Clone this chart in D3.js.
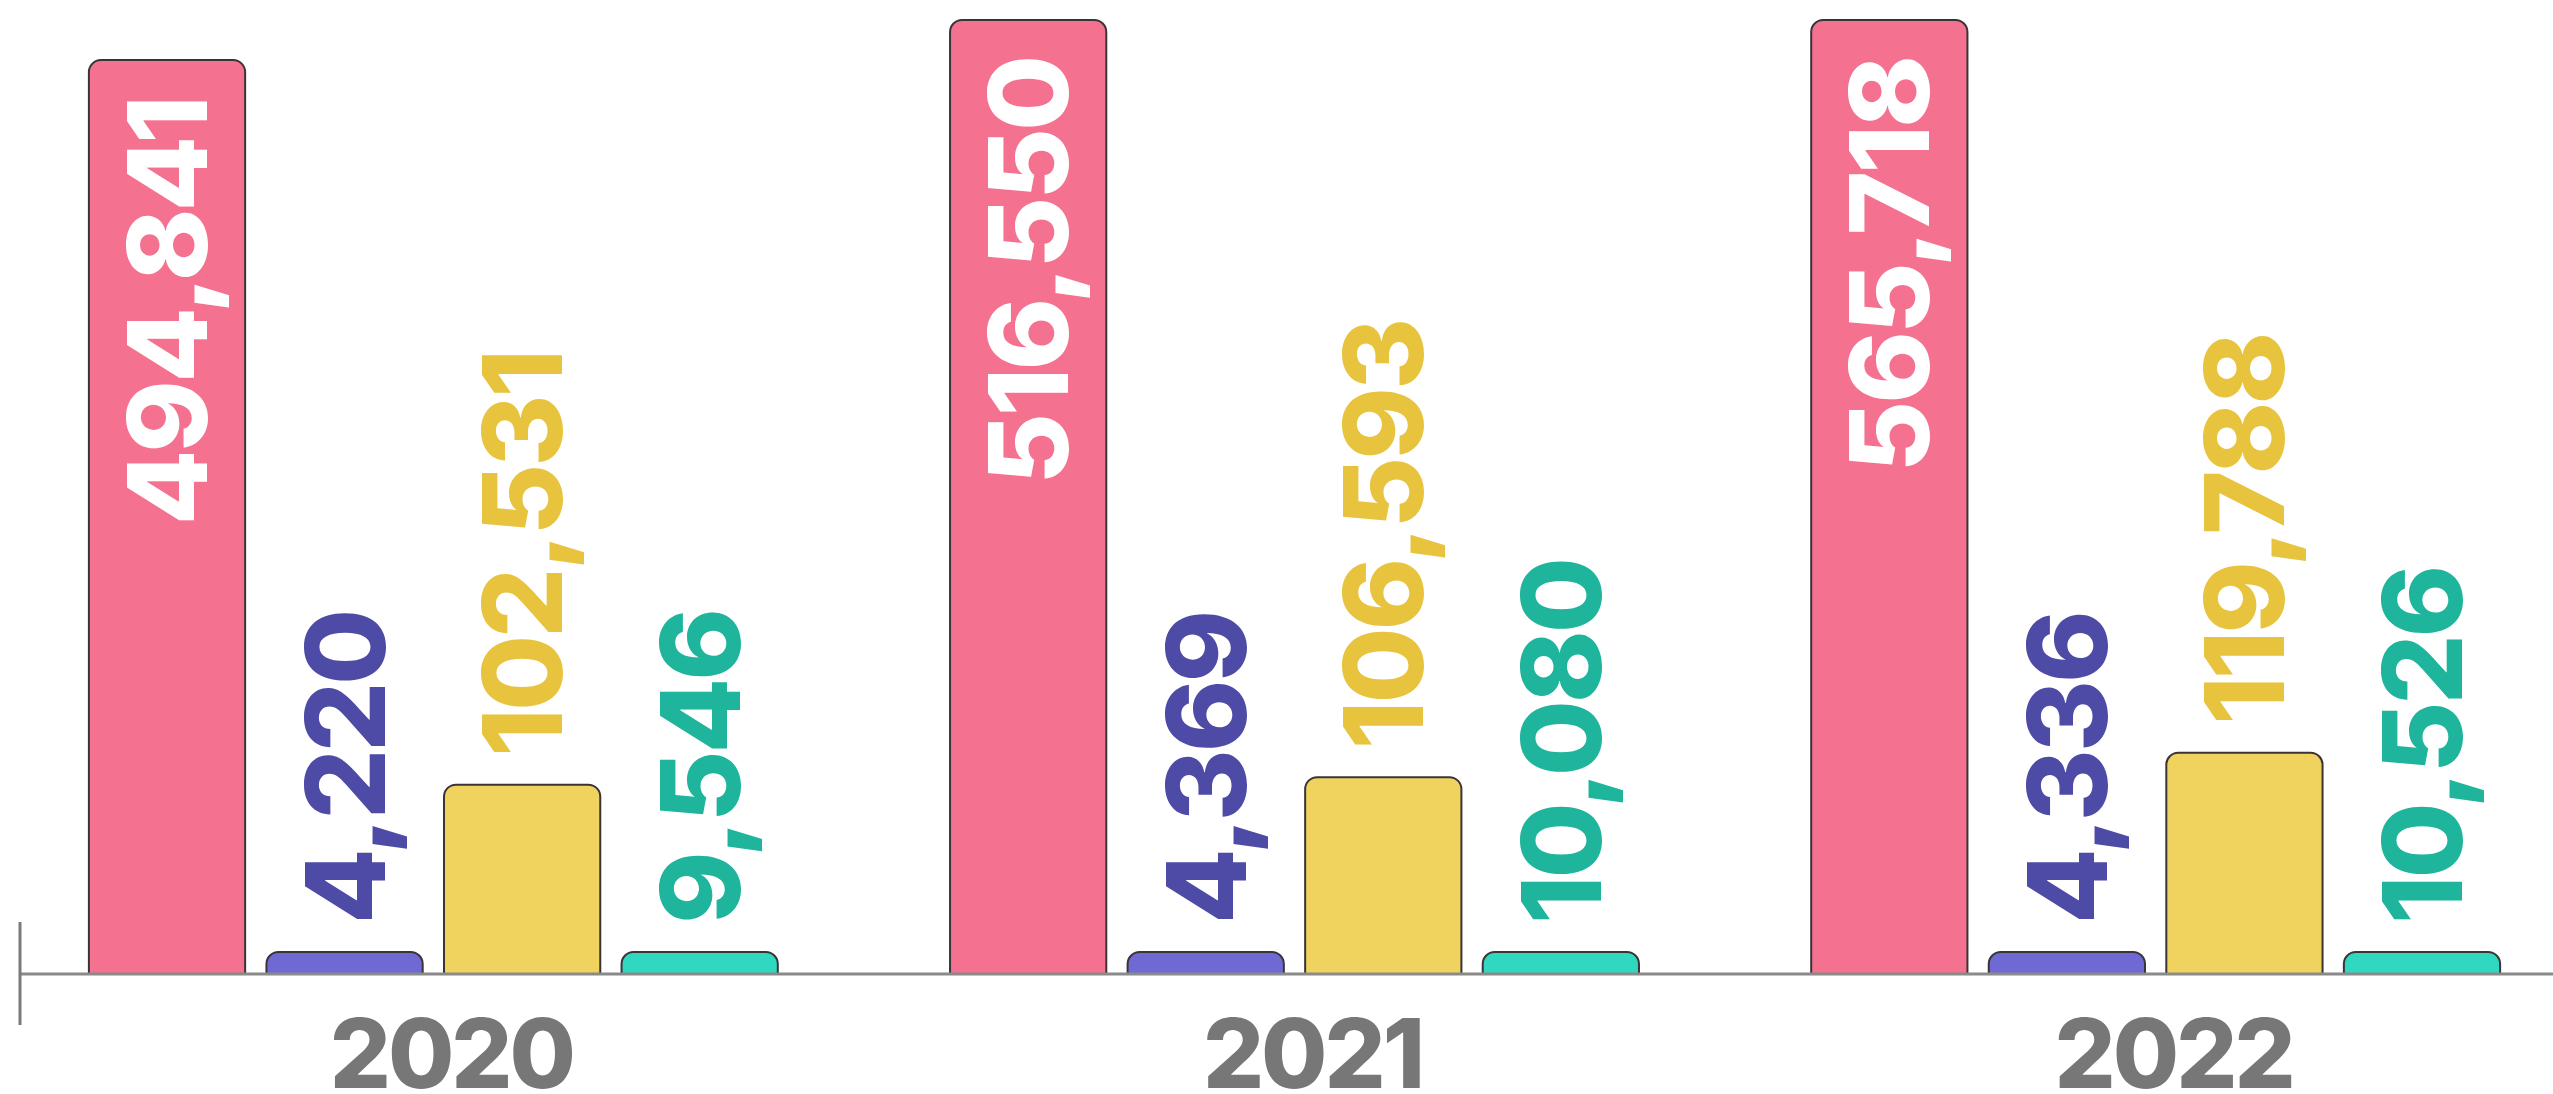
<!DOCTYPE html>
<html>
<head>
<meta charset="utf-8">
<script src="https://cdn.jsdelivr.net/npm/d3@7"></script>
<style>
  html, body { margin: 0; padding: 0; background: #ffffff; }
  svg { display: block; }
</style>
</head>
<body>
<div id="chart"></div>
<script>
// ---- data ----
const years = ["2020", "2021", "2022"];
const seriesNames = ["pink", "blue", "yellow", "teal"];
const pinkValues   = [494841, 516550, 565718];
const blueValues   = [4220, 4369, 4336];
const yellowValues = [102531, 106593, 119788];
const tealValues   = [9546, 10080, 10526];
const yDomainMax = 516550;

// ---- styles ----
const barFill   = { pink: "#F4718F", blue: "#6F6AD3", yellow: "#EFD35E", teal: "#2FD8BE" };
const labelFill = { pink: "#ffffff", blue: "#4D4BA6", yellow: "#E8C43E", teal: "#1FB59C" };

const W = 2553, H = 1094;
const baseY = 974, topY = 20;

const seriesValues = { pink: pinkValues, blue: blueValues, yellow: yellowValues, teal: tealValues };
const rows = [];
years.forEach((yr, i) => seriesNames.forEach(s => rows.push({ year: yr, series: s, value: seriesValues[s][i] })));

const svg = d3.select("#chart").append("svg").attr("width", W).attr("height", H);

const x0 = d3.scaleBand().domain(years).range([20, 2569]).paddingInner(0.2).paddingOuter(0.08);
const x1 = d3.scaleBand().domain(seriesNames).range([0, x0.bandwidth()]).paddingInner(0.12).paddingOuter(0);
const y = d3.scaleLinear().domain([0, yDomainMax]).range([baseY, topY]).clamp(true);

const minH = 22, r = 12;
function topRounded(x, yTop, w, h) {
  const p = d3.path();
  const rr = Math.min(r, h, w / 2);
  p.moveTo(x, yTop + h);
  p.lineTo(x, yTop + rr);
  p.arcTo(x, yTop, x + rr, yTop, rr);
  p.lineTo(x + w - rr, yTop);
  p.arcTo(x + w, yTop, x + w, yTop + rr, rr);
  p.lineTo(x + w, yTop + h);
  p.closePath();
  return p.toString();
}

rows.forEach(d => {
  const h = Math.max(baseY - y(d.value), minH);
  d.x = x0(d.year) + x1(d.series);
  d.w = x1.bandwidth();
  d.top = baseY - h;
  d.h = h;
});

svg.append("g").selectAll("path").data(rows).join("path")
  .attr("d", d => topRounded(d.x, d.top, d.w, d.h))
  .attr("fill", d => barFill[d.series])
  .attr("stroke", "#3a3438")
  .attr("stroke-width", 2);

// axis
const axisG = svg.append("g");
axisG.append("line").attr("x1", 20).attr("x2", W).attr("y1", baseY).attr("y2", baseY)
  .attr("stroke", "#8a8a8a").attr("stroke-width", 3);
axisG.append("line").attr("x1", 20).attr("x2", 20).attr("y1", 922).attr("y2", 1025)
  .attr("stroke", "#7a7a7a").attr("stroke-width", 3);

const fmt = d3.format(",");
const fontSize = 110, half = 40;
svg.append("g").selectAll("text").data(rows).join("text")
  .attr("transform", d => {
    const cx = d.x + d.w / 2 + half;
    const ty = d.series === "pink" ? d.top + 38 : d.top - 28;
    return `translate(${cx},${ty}) rotate(-90)`;
  })
  .attr("text-anchor", d => d.series === "pink" ? "end" : "start")
  .attr("font-family", "Inter, sans-serif")
  .attr("font-weight", 800)
  .attr("font-size", fontSize)
  .attr("letter-spacing", -3)
  .attr("fill", d => labelFill[d.series])
  .text(d => fmt(d.value));

// year labels
svg.append("g").selectAll("text").data(years).join("text")
  .attr("x", d => x0(d) + x0.bandwidth() / 2 + 18)
  .attr("y", 1088)
  .attr("text-anchor", "middle")
  .attr("font-family", "Inter, sans-serif")
  .attr("font-weight", 800)
  .attr("font-size", 96)
  .attr("letter-spacing", -3)
  .attr("fill", "#777777")
  .text(d => d);
</script>
</body>
</html>
